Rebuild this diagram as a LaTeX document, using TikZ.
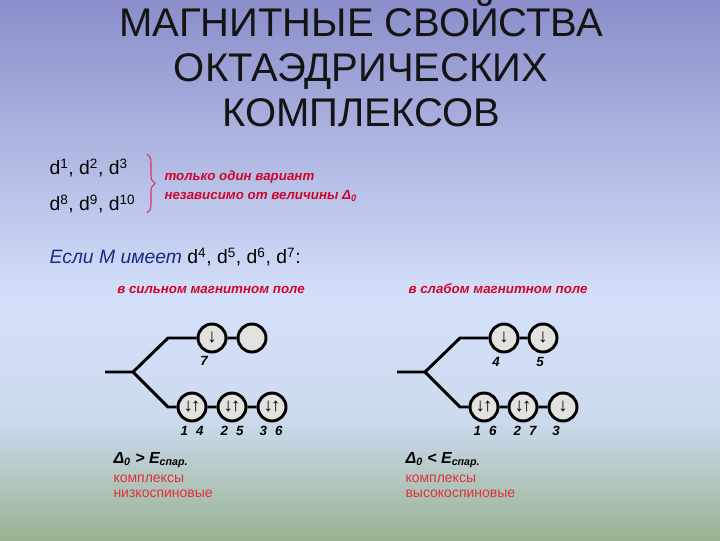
\documentclass[tikz,border=0pt]{standalone}
\usepackage{fontspec}
\setmainfont{Liberation Sans}
\usetikzlibrary{decorations.pathreplacing}

\definecolor{bgtop}{HTML}{8A8ECA}
\definecolor{bgmid}{HTML}{D4E0FA}
\definecolor{bglow}{HTML}{CCDAEE}
\definecolor{bgbot}{HTML}{98B290}
\definecolor{redink}{HTML}{D0062A}
\definecolor{pinkink}{HTML}{E0303C}
\definecolor{blueink}{HTML}{1C2A88}
\definecolor{orbfill}{HTML}{E2E2DE}

\tikzset{every picture/.style={line width=0.75pt}}

\begin{document}
\begin{tikzpicture}[x=0.75pt,y=0.75pt,yscale=-1,xscale=1,
	title/.style={inner sep=0pt,align=center,text=black!92,font=\fontsize{30}{33.75}\selectfont},
	dtxt/.style={inner sep=0.75pt,anchor=west,font=\fontsize{14.5}{17}\selectfont},
	note/.style={inner sep=0.75pt,anchor=west,align=left,text=redink,font=\fontsize{10}{14.25}\selectfont\bfseries\itshape},
	head/.style={inner sep=0.75pt,text=redink,font=\fontsize{10}{12}\selectfont\bfseries\itshape},
	orb/.style={circle,draw,line width=2.2pt,fill=orbfill,minimum size=21pt,inner sep=0pt,font=\fontsize{14}{14}\selectfont},
	lvl/.style={line width=2.2pt,line join=round},
	num/.style={inner sep=0.75pt,font=\fontsize{10}{12}\selectfont\bfseries\itshape},
	cond/.style={inner sep=0.75pt,anchor=west,font=\fontsize{12}{14}\selectfont\bfseries\itshape},
	cmt/.style={inner sep=0.75pt,anchor=north west,align=left,text=pinkink,font=\fontsize{10.5}{11.25}\selectfont}]

	%background
	\shade[top color=bgtop,bottom color=bgmid] (0,0) rectangle (720,300);
	\shade[top color=bgmid,bottom color=bglow] (0,300) rectangle (720,420);
	\shade[top color=bglow,bottom color=bgbot] (0,420) rectangle (720,540);
	\useasboundingbox (0,0) rectangle (720,540);

	%title
	\node[title] (ttl) at (361,64) {МАГНИТНЫЕ СВОЙСТВА\\ОКТАЭДРИЧЕСКИХ\\КОМПЛЕКСОВ};

	%d configurations with one variant
	\node[dtxt] (dlow) at (48,168) {d\textsuperscript{1}, d\textsuperscript{2}, d\textsuperscript{3}};
	\node[dtxt] (dhigh) at (48,204) {d\textsuperscript{8}, d\textsuperscript{9}, d\textsuperscript{10}};
	\draw[decorate,decoration={brace,amplitude=6pt},draw=redink!80,line width=0.8pt] (147,154) -- (147,213);
	\node[note] (one) at (163,186) {только один вариант\\независимо от величины Δ\textsubscript{0}};

	\node[dtxt] (esli) at (48,257) {\textcolor{blueink}{\itshape Если М имеет} d\textsuperscript{4}, d\textsuperscript{5}, d\textsuperscript{6}, d\textsuperscript{7}:};

	%strong field
	\node[head] (hstr) at (211,290) {в сильном магнитном поле};
	\node[orb] (egL1) at (212,338) {↓};
	\node[orb] (egL2) at (252,338) {};
	\node[orb] (tL1) at (192,407) {↓\kern-1.5pt↑};
	\node[orb] (tL2) at (232,407) {↓\kern-1.5pt↑};
	\node[orb] (tL3) at (272,407) {↓\kern-1.5pt↑};
	\coordinate (inL) at (105,372);
	\coordinate (spL) at (133,372);
	\coordinate (upL) at (168,338);
	\coordinate (loL) at (168,407);
	\draw[lvl] (inL) -- (spL) -- (upL) -- (egL1) -- (egL2);
	\draw[lvl] (spL) -- (loL) -- (tL1) -- (tL2) -- (tL3);
	\node[num] (nL7) at (204,361) {7};
	\node[num] (nL14) at (192,431) {1\hspace{6pt}4};
	\node[num] (nL25) at (232,431) {2\hspace{6pt}5};
	\node[num] (nL36) at (271,431) {3\hspace{6pt}6};

	%weak field
	\node[head] (hwk) at (498,289) {в слабом магнитном поле};
	\node[orb] (egR1) at (504,338) {↓};
	\node[orb] (egR2) at (543,338) {↓};
	\node[orb] (tR1) at (484,407) {↓\kern-1.5pt↑};
	\node[orb] (tR2) at (523,407) {↓\kern-1.5pt↑};
	\node[orb] (tR3) at (563,407) {↓};
	\coordinate (inR) at (397,372);
	\coordinate (spR) at (425,372);
	\coordinate (upR) at (460,338);
	\coordinate (loR) at (460,407);
	\draw[lvl] (inR) -- (spR) -- (upR) -- (egR1) -- (egR2);
	\draw[lvl] (spR) -- (loR) -- (tR1) -- (tR2) -- (tR3);
	\node[num] (nR4) at (496,362) {4};
	\node[num] (nR5) at (540,362) {5};
	\node[num] (nR16) at (485,431) {1\hspace{6pt}6};
	\node[num] (nR27) at (525,431) {2\hspace{6pt}7};
	\node[num] (nR3) at (556,431) {3};

	%conclusions
	\node[cond] (cL) at (112,460) {Δ\textsubscript{0} > E\textsubscript{спар.}};
	\node[cmt] (kL) at (112,473) {комплексы\\низкоспиновые};
	\node[cond] (cR) at (404,460) {Δ\textsubscript{0} < E\textsubscript{спар.}};
	\node[cmt] (kR) at (404,473) {комплексы\\высокоспиновые};

\end{tikzpicture}
\end{document}
